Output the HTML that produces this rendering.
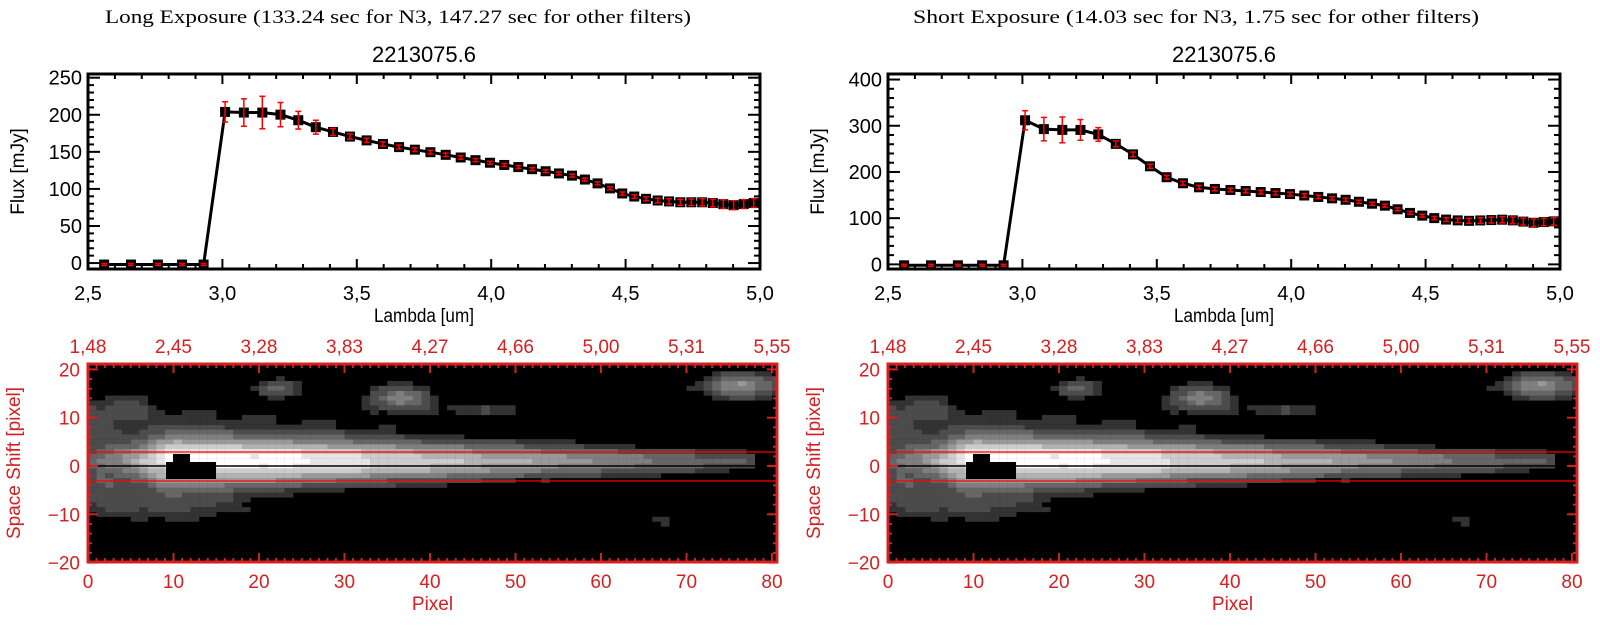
<!DOCTYPE html>
<html><head><meta charset="utf-8">
<style>
html,body{margin:0;padding:0;background:#fff;}
svg{display:block;}
</style></head>
<body>
<svg id="s" width="1600" height="630" xmlns="http://www.w3.org/2000/svg" font-family="Liberation Sans, DejaVu Sans, sans-serif"></svg>
<script>
const S=document.getElementById('s');
let out='';
function add(x){out+=x;}
function txt(x,y,t,o){o=o||{};add(`<text x="${x}" y="${y}" font-size="${o.fs||18}" fill="${o.c||'#000'}" text-anchor="${o.a||'middle'}" ${o.ff?`font-family="${o.ff}"`:''} ${o.tr?`transform="${o.tr}"`:''} ${o.tl?`textLength="${o.tl}" lengthAdjust="spacingAndGlyphs"`:''}>${t}</text>`);}
function line(x1,y1,x2,y2,c,w){add(`<line x1="${x1}" y1="${y1}" x2="${x2}" y2="${y2}" stroke="${c}" stroke-width="${w}"/>`);}

function lams(){const a=[2.56,2.66,2.76,2.85,2.93];let l=3.01;while(l<=4.995){a.push(l);l+=0.07-0.017*(l-3);}return a;}
function interp(pts,x){for(let i=0;i<pts.length-1;i++){if(x<=pts[i+1][0]){const t=(x-pts[i][0])/(pts[i+1][0]-pts[i][0]);return pts[i][1]+t*(pts[i+1][1]-pts[i][1]);}}return pts[pts.length-1][1];}
const L1=[[3.0,204],[3.07,203],[3.15,203],[3.22,200],[3.28,193],[3.34,184],[3.4,178],[3.47,171],[3.53,166],[3.63,158],[3.8,148],[4.0,135],[4.2,124],[4.3,118],[4.4,107],[4.5,92],[4.6,85],[4.7,82],[4.8,82],[4.9,78],[5.0,82]];
const E1=[[3.0,13],[3.07,18],[3.15,22],[3.22,16],[3.28,12],[3.34,10],[3.4,5],[3.5,3],[4.0,2],[4.5,2],[4.7,4],[4.9,6],[5.0,6]];
const L2=[[3.0,315],[3.07,293],[3.15,291],[3.22,291],[3.28,282],[3.35,260],[3.42,235],[3.48,210],[3.53,190],[3.6,175],[3.67,165],[3.8,160],[4.0,152],[4.2,140],[4.35,127],[4.45,110],[4.55,98],[4.65,94],[4.8,97],[4.9,90],[5.0,94]];
const E2=[[3.0,20],[3.07,25],[3.15,28],[3.22,22],[3.28,15],[3.35,6],[3.5,4],[4.0,4],[4.5,3],[4.7,6],[4.9,8],[5.0,8]];

function topPlot(ox,ymin,ymax,ytick,yminor,L,E,ylabs){
  const x0=88+ox,x1=760+ox,y0=74,y1=269;
  const X=l=>x0+(l-2.5)/2.5*(x1-x0);
  const Y=v=>y1-(v-ymin)/(ymax-ymin)*(y1-y0);
  for(let l=2.5;l<=5.001;l+=0.1){const maj=Math.abs(l*2-Math.round(l*2))<0.01;const tl=maj?10:5;const x=X(l);
    line(x,y1,x,y1-tl,'#000',2);line(x,y0,x,y0+tl,'#000',2);}
  for(let v=Math.ceil(ymin/yminor)*yminor;v<=ymax;v+=yminor){const maj=v%ytick===0;const tl=maj?12:6;const y=Y(v);
    line(x0,y,x0+tl,y,'#000',2);line(x1,y,x1-tl,y,'#000',2);}
  add(`<rect x="${x0}" y="${y0}" width="${x1-x0}" height="${y1-y0}" fill="none" stroke="#000" stroke-width="3"/>`);
  ylabs.forEach(v=>txt(x0-6,Y(v)+7,v,{a:'end',fs:20}));
  ['2.5','3.0','3.5','4.0','4.5','5.0'].forEach(s=>txt(X(+s),300,s.replace('.',','),{fs:20}));
  txt((x0+x1)/2,322,'Lambda [um]',{fs:19,tl:100});
  txt(0,0,'Flux [mJy]',{fs:19,tr:`translate(${x0-64},${(y0+y1)/2}) rotate(-90)`});
  const ls=lams();const pts=ls.map(l=>[X(l),Y(l<3?-2:interp(L,l))]);
  add(`<polyline points="${pts.map(p=>p.join(',')).join(' ')}" fill="none" stroke="#000" stroke-width="3"/>`);
  pts.forEach(p=>{add(`<rect x="${p[0]-5}" y="${p[1]-5}" width="10" height="10" fill="#000"/>`);});
  ls.forEach((l,i)=>{const p=pts[i];const e=l<3?0.5:interp(E,l);const h=Math.max(1,e*(y1-y0)/(ymax-ymin));
    line(p[0],p[1]-h,p[0],p[1]+h,'#f00',1.5);line(p[0]-3,p[1]-h,p[0]+3,p[1]-h,'#f00',1.5);line(p[0]-3,p[1]+h,p[0]+3,p[1]+h,'#f00',1.5);});
}

function bright(c,r){
  let amp;
  if(c<4)amp=0.3+0.05*c;else if(c<9)amp=0.5+0.1*(c-4);else if(c<22)amp=1.0;else amp=Math.max(0,1.0-(c-22)*0.0135);
  if(c>77)amp=0;
  let sig;
  if(c<10)sig=2.8+0.12*c;else sig=Math.max(1.2,4.0-(c-10)*0.04);
  let v=amp*Math.exp(-(r*r)/(2*sig*sig));
  const hw=c<14?7.5:Math.max(2.5,7.5-(c-14)*0.12);
  const ha=c<30?0.24:Math.max(0,0.24-(c-30)*0.005);
  v=Math.max(v,ha*Math.exp(-(r*r)/(2*hw*hw)));
  const blobs=[[21.5,15,1.8,1.3,0.3],[36,13,2.5,1.8,0.45],[46,10.5,4,1.1,0.17],[76,15.5,3.2,1.8,0.5],[66.5,-12.5,1.5,1,0.2],[33,-12.5,0.5,0.5,0.14],[1.5,-4,1.5,5,0.1],[9,-9,6,3,0.15],[3,11,3,2,0.13]];
  blobs.forEach(b=>{v+=b[4]*Math.exp(-((c-b[0])**2)/(2*b[2]*b[2])-((r-b[1])**2)/(2*b[3]*b[3]));});
  const n=((c*7919+r*104729)%13)/13-0.5;v+=n*0.05;
  return v;
}
let img='';
for(let c=0;c<81;c++)for(let r=-20;r<=20;r++){
  let v=bright(c,r);if(v<0.1)continue;v=Math.min(1,v);
  const q=Math.round(v*9)/9;const g=Math.round(25+q*230);
  img+=`<rect x="${(c*8.55).toFixed(2)}" y="${((20-r)*4.85-2.4).toFixed(2)}" width="8.7" height="5" fill="rgb(${g},${g},${g})"/>`;
}
function botPlot(ox){
  const x0=88+ox,x1=777+ox,y0=364,y1=562;
  const red='#d42020';
  add(`<rect x="${x0}" y="${y0}" width="${x1-x0}" height="${y1-y0}" fill="#000"/>`);
  add(`<svg x="${x0}" y="${y0}" width="${x1-x0}" height="${y1-y0}">${img}</svg>`);
  add(`<rect x="${x0+78}" y="462" width="50" height="17" fill="#000"/><rect x="${x0+85}" y="454" width="17" height="25" fill="#000"/>`);
  line(x0,466,x1,466,'#000',1.5);
  line(x0,452,x1,452,'#f00',1.2);line(x0,481,x1,481,'#f00',1.2);
  const PX=p=>x0+p*8.55;
  for(let p=0;p<=80;p++){const maj=p%10===0;const tl=maj?9:4;line(PX(p),y1,PX(p),y1-tl,red,2);line(PX(p),y0,PX(p),y0+tl,red,2);}
  for(let r=-20;r<=20;r+=2){const y=466-r*4.83;const tl=r%10===0?10:4;line(x0,y,x0+tl,y,red,2);line(x1,y,x1-tl,y,red,2);}
  add(`<rect x="${x0}" y="${y0}" width="${x1-x0}" height="${y1-y0}" fill="none" stroke="${red}" stroke-width="3"/>`);
  [0,10,20,30,40,50,60,70,80].forEach(p=>txt(PX(p),588,p,{fs:19,c:red}));
  ['1.48','2.45','3.28','3.83','4.27','4.66','5.00','5.31','5.55'].forEach((s,i)=>txt(PX(i*10),353,s.replace('.',','),{fs:19,c:red}));
  [20,10,0,-10,-20].forEach(r=>txt(x0-8,466-r*4.83+7,r===0?'0':(r<0?'−'+(-r):r),{a:'end',fs:19,c:red}));
  txt((x0+x1)/2,610,'Pixel',{fs:19,c:red});
  txt(0,0,'Space Shift [pixel]',{fs:19,c:red,tr:`translate(${x0-68},${(y0+y1)/2}) rotate(-90)`});
}

txt(398,23,'Long Exposure (133.24 sec for N3, 147.27 sec for other filters)',{fs:19,ff:'Liberation Serif, serif',tl:586});
txt(1196,23,'Short Exposure (14.03 sec for N3, 1.75 sec for other filters)',{fs:19,ff:'Liberation Serif, serif',tl:566});
txt(424,62,'2213075.6',{fs:22});
txt(1224,62,'2213075.6',{fs:22});
topPlot(0,-8,255,50,10,L1,E1,[0,50,100,150,200,250]);
topPlot(800,-10,412,100,20,L2,E2,[0,100,200,300,400]);
botPlot(0);botPlot(800);
S.innerHTML=out;
</script>
</body></html>
